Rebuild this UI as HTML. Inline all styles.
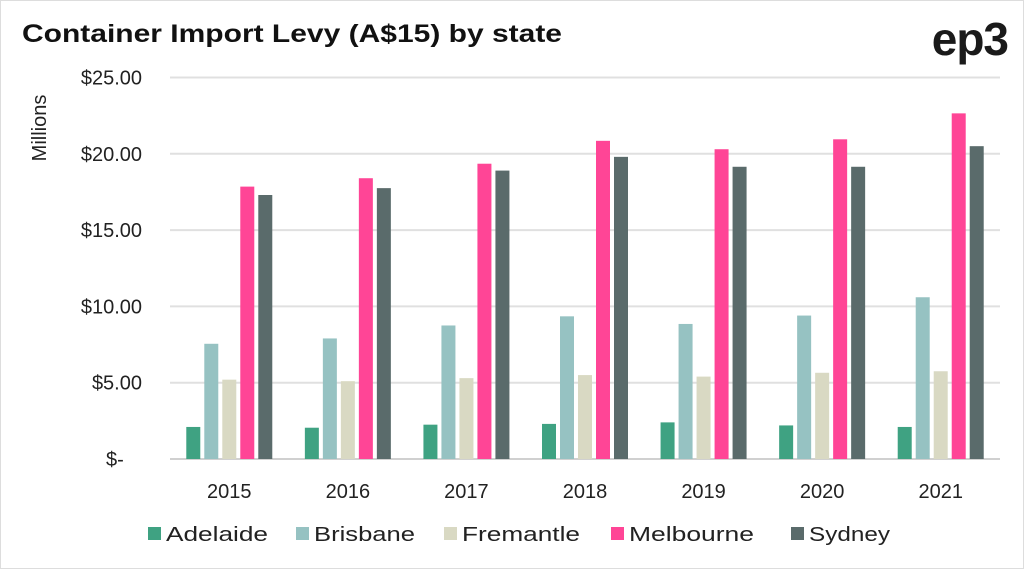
<!DOCTYPE html>
<html><head><meta charset="utf-8"><style>
body{margin:0;width:1024px;height:569px;background:#fff;overflow:hidden;font-family:"Liberation Sans",sans-serif}
#frame{position:absolute;left:0;top:0;width:1022px;height:567px;border:1px solid #ddd}
</style></head><body>
<div id="frame"></div>
<svg id="c" width="1024" height="569" style="position:absolute;left:0;top:0">
<text x="22" y="42" font-size="25" font-weight="bold" fill="#111" textLength="540" lengthAdjust="spacingAndGlyphs">Container Import Levy (A$15) by state</text>
<text x="1008" y="55" font-size="46" font-weight="bold" fill="#1a1a1a" text-anchor="end" letter-spacing="-1">ep3</text>
<text transform="translate(46,128) rotate(-90)" font-size="20" fill="#222" text-anchor="middle">Millions</text>
</svg>
<script>
const categories=["2015","2016","2017","2018","2019","2020","2021"];
const seriesNames=["Adelaide","Brisbane","Fremantle","Melbourne","Sydney"];
const adelaide=[2.1,2.05,2.25,2.3,2.4,2.2,2.1];
const brisbane=[7.55,7.9,8.75,9.35,8.85,9.4,10.6];
const fremantle=[5.2,5.1,5.3,5.5,5.4,5.65,5.75];
const melbourne=[17.85,18.4,19.35,20.85,20.3,20.95,22.65];
const sydney=[17.3,17.75,18.9,19.8,19.15,19.15,20.5];
const ticks=[0,5,10,15,20,25];
const tickLabels=["$-","$5.00","$10.00","$15.00","$20.00","$25.00"];
const colors=["#3fa282","#96c2c2","#d9d9c3","#ff4596","#5a6b6b"];
const series=[adelaide,brisbane,fremantle,melbourne,sydney];
const svg=document.getElementById('c');const NS="http://www.w3.org/2000/svg";
const x0=170,x1=1000,yBase=459,yTop=77.5,vmax=25;
const y=v=>yBase-(v/vmax)*(yBase-yTop);
const gw=(x1-x0)/categories.length;
const gx=i=>x0+gw*(i+0.5);
function mk(t,a){const e=document.createElementNS(NS,t);for(const k in a)e.setAttribute(k,a[k]);svg.appendChild(e);return e;}
ticks.forEach((t,i)=>{
 const l=mk('line',{x1:x0,x2:x1,y1:y(t),y2:y(t),stroke:i===0?'#d0d0d0':'#e0e0e0','stroke-width':2});
 
 
 const tx=mk('text',{x:i===0?106:142,y:y(t)+7,'font-size':20,fill:'#222','text-anchor':i===0?'start':'end'});
 tx.textContent=tickLabels[i];
 
 
});
const bw=14,pitch=18;
categories.forEach((c,i)=>{
 series.forEach((s,j)=>{
  const bx=gx(i)-(pitch*5-4)/2+j*pitch;
  const r=mk('rect',{x:bx,y:y(s[i]),width:bw,height:yBase-y(s[i]),fill:colors[j]});
  
  
 });
 const t=mk('text',{x:gx(i),y:498,'font-size':20,fill:'#222','text-anchor':'middle'});
 t.textContent=c;
 
 
});
const lx=[148,296,444,611,791];
const lw=[102,101,118,125,81];
seriesNames.forEach((n,j)=>{
 const g=mk('g',{});
 
 
 const r=document.createElementNS(NS,'rect');r.setAttribute('x',lx[j]);r.setAttribute('y',527);r.setAttribute('width',13);r.setAttribute('height',13);r.setAttribute('fill',colors[j]);g.appendChild(r);
 const t=document.createElementNS(NS,'text');t.setAttribute('x',lx[j]+18);t.setAttribute('y',541);t.setAttribute('font-size',20);t.setAttribute('fill','#222');t.setAttribute('textLength',lw[j]);t.setAttribute('lengthAdjust','spacingAndGlyphs');t.textContent=n;g.appendChild(t);
});
</script>
</body></html>
